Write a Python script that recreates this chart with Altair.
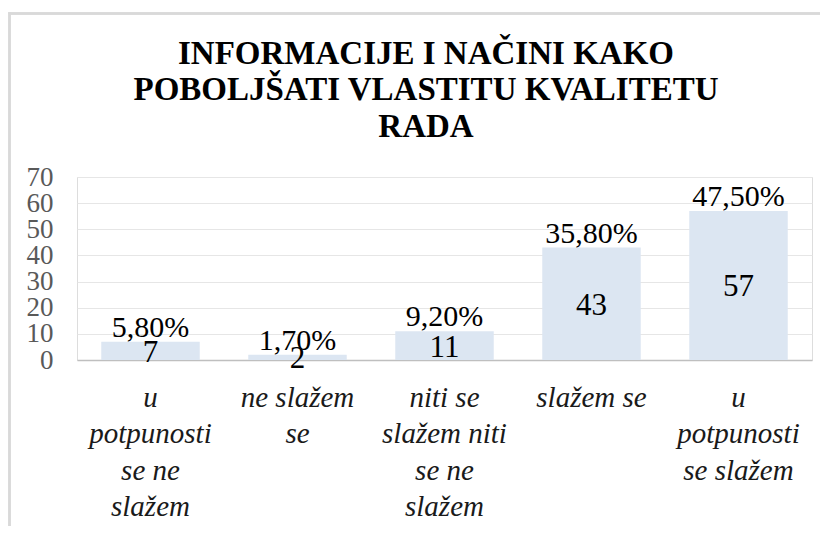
import altair as alt
import pandas as pd

categories = ["u potpunosti se ne slažem", "ne slažem se", "niti se slažem niti se ne slažem", "slažem se", "u potpunosti se slažem"]
label_lines = [["u", "potpunosti", "se ne", "slažem"], ["ne slažem", "se"], ["niti se", "slažem niti", "se ne", "slažem"], ["slažem se"], ["u", "potpunosti", "se slažem"]]
counts = [7, 2, 11, 43, 57]
percents = ["5,80%", "1,70%", "9,20%", "35,80%", "47,50%"]
y_ticks = [0, 10, 20, 30, 40, 50, 60, 70]
title_lines = ["INFORMACIJE I NAČINI KAKO", "POBOLJŠATI VLASTITU KVALITETU", "RADA"]

df = pd.DataFrame({"cat": categories, "count": counts, "pct": percents})
df["half"] = df["count"] / 2

expr = ""
for c, lines in zip(categories, label_lines):
    arr = "[" + ",".join("'" + l + "'" for l in lines) + "]"
    expr += f"datum.value == '{c}' ? {arr} : "
expr += "datum.label"

SERIF = "Liberation Serif"

x_axis = alt.Axis(labelExpr=expr, labelAngle=0, labelFont=SERIF, labelFontSize=29,
                  labelFontStyle="italic", labelColor="#1a1a1a", labelLineHeight=36.5,
                  labelPadding=23, ticks=False, domainColor="#bfbfbf", domainWidth=1.5,
                  labelLimit=300, labelOverlap=False)
y_axis = alt.Axis(values=y_ticks, labelFont=SERIF, labelFontSize=27, labelColor="#595959",
                  ticks=False, domain=False, gridColor="#e6e6e6", gridWidth=1.2,
                  labelPadding=24, labelOverlap=False)
x_scale = alt.Scale(paddingInner=0.33, paddingOuter=0.165)
y_scale = alt.Scale(domain=[0, 70], nice=False)

x = alt.X("cat:N", sort=categories, title=None, scale=x_scale, axis=x_axis)

base = alt.Chart(df)
bars = base.mark_bar(color="#dce6f2").encode(
    x=x, y=alt.Y("count:Q", title=None, scale=y_scale, axis=y_axis))
pct = base.mark_text(baseline="alphabetic", dy=-5, font=SERIF, fontSize=30, color="#000000").encode(
    x=x, y=alt.Y("count:Q", title=None, scale=y_scale, axis=y_axis), text="pct:N")
cnt = base.mark_text(baseline="middle", dy=2, font=SERIF, fontSize=31, color="#000000").encode(
    x=x, y=alt.Y("half:Q", title=None, scale=y_scale, axis=y_axis), text="count:Q")

frame_left = base.mark_rule(color="#d9d9d9", strokeWidth=2, clip=False).encode(
    x=alt.value(-67.5), y=alt.value(-164.5), y2=alt.value(400))
frame_top = base.mark_rule(color="#d9d9d9", strokeWidth=2, clip=False).encode(
    x=alt.value(-68.5), x2=alt.value(760), y=alt.value(-163.5))

chart = alt.layer(frame_left, frame_top, bars, pct, cnt).properties(
    width=735, height=183,
    title=alt.TitleParams(title_lines, font=SERIF, fontSize=33, fontWeight="bold",
                          color="#000000", lineHeight=36.5, anchor="middle", dx=-18.5,
                          offset=-132, frame="group"),
    autosize=alt.AutoSizeParams(type="none"),
    padding={"left": 69, "top": 169, "right": 8, "bottom": 166},
).configure_view(stroke=None).configure(background="white")

chart.save("out.html", embed_options={"renderer": "svg", "actions": False})
